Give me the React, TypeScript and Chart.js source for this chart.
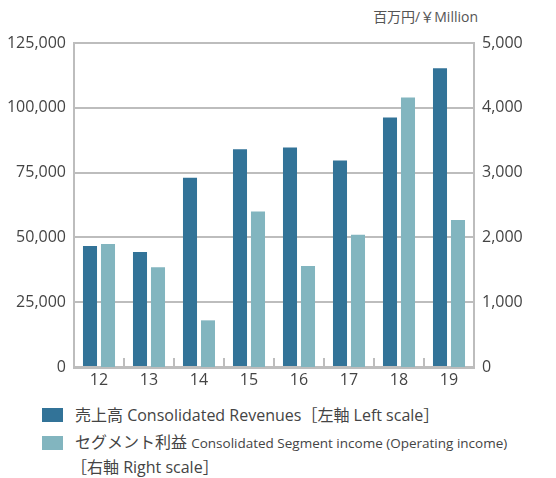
import React, { useEffect, useRef } from "react";
import { Chart, registerables } from "chart.js";

Chart.register(...registerables);

const categories = ["12", "13", "14", "15", "16", "17", "18", "19"];
const revenues = [46700, 44400, 73000, 84000, 84700, 79700, 96300, 115300];
const segmentIncome = [1900, 1540, 720, 2400, 1560, 2040, 4160, 2270];
const leftTicks = [0, 25000, 50000, 75000, 100000, 125000];
const rightTicks = [0, 1000, 2000, 3000, 4000, 5000];

const DARK = "#327398";
const LIGHT = "#82b5bf";
const GRID = "#bdbdbd";
const TEXT = "#444444";
const FONT = "'Open Sans', 'Noto Sans CJK JP', sans-serif";

const fmt = (v: number) => v.toLocaleString("en-US");

const innerTicks = {
  id: "innerTicks",
  afterDatasetsDraw(chart: any) {
    const x = chart.scales.x;
    const area = chart.chartArea;
    const ctx = chart.ctx;
    ctx.save();
    ctx.strokeStyle = GRID;
    ctx.lineWidth = 2;
    for (let i = 1; i < categories.length; i++) {
      const px = (x.getPixelForValue(i - 1) + x.getPixelForValue(i)) / 2;
      ctx.beginPath();
      ctx.moveTo(px, area.bottom - 9);
      ctx.lineTo(px, area.bottom);
      ctx.stroke();
    }
    ctx.restore();
  },
};

export default function App() {
  const ref = useRef<HTMLCanvasElement | null>(null);
  useEffect(() => {
    if (!ref.current) return;
    const chart = new Chart(ref.current, {
      type: "bar",
      data: {
        labels: categories,
        datasets: [
          {
            label: "売上高",
            data: revenues,
            backgroundColor: DARK,
            yAxisID: "y",
            categoryPercentage: 0.72,
            barPercentage: 0.78,
          },
          {
            label: "セグメント利益",
            data: segmentIncome,
            backgroundColor: LIGHT,
            yAxisID: "y1",
            categoryPercentage: 0.72,
            barPercentage: 0.78,
          },
        ],
      },
      options: {
        animation: false,
        responsive: false,
        maintainAspectRatio: false,
        layout: { padding: { top: 43, left: 0, right: 0, bottom: 0 } },
        plugins: { legend: { display: false }, tooltip: { enabled: false } },
        scales: {
          x: {
            grid: { display: false, drawTicks: false },
            border: { display: true, color: GRID, width: 3 },
            ticks: { color: TEXT, font: { family: FONT, size: 16 }, padding: 4 },
            afterFit: (s: any) => {
              s.height = 33;
            },
          },
          y: {
            position: "left",
            min: 0,
            max: 125000,
            afterBuildTicks: (s: any) => {
              s.ticks = leftTicks.map((v) => ({ value: v }));
            },
            grid: { color: GRID, lineWidth: 2, drawTicks: false },
            border: { display: true, color: GRID, width: 2 },
            ticks: {
              color: TEXT,
              font: { family: FONT, size: 16 },
              padding: 8,
              callback: (v: any) => fmt(Number(v)),
            },
            afterFit: (s: any) => {
              s.width = 74;
            },
          },
          y1: {
            position: "right",
            min: 0,
            max: 5000,
            afterBuildTicks: (s: any) => {
              s.ticks = rightTicks.map((v) => ({ value: v }));
            },
            grid: { display: false, drawTicks: false },
            border: { display: true, color: GRID, width: 2 },
            ticks: {
              color: TEXT,
              font: { family: FONT, size: 16 },
              padding: 8,
              callback: (v: any) => fmt(Number(v)),
            },
            afterFit: (s: any) => {
              s.width = 82;
            },
          },
        },
      },
      plugins: [innerTicks],
    });
    return () => chart.destroy();
  }, []);

  const swatch = (color: string, top: number): React.CSSProperties => ({
    position: "absolute",
    left: 42,
    top,
    width: 21,
    height: 14,
    background: color,
  });
  const line = (top: number): React.CSSProperties => ({
    position: "absolute",
    left: 75,
    top,
    whiteSpace: "nowrap",
    color: TEXT,
    fontFamily: FONT,
    fontSize: 16,
    lineHeight: "20px",
  });

  return (
    <div style={{ position: "absolute", left: 0, top: 0, width: 556, height: 478, background: "#fff" }}>
      <div
        style={{
          position: "absolute",
          right: 78,
          top: 7,
          color: "#555",
          fontFamily: FONT,
          fontSize: 14,
          lineHeight: "20px",
          whiteSpace: "nowrap",
        }}
      >
        百万円/￥Million
      </div>
      <canvas ref={ref} width={556} height={400} style={{ position: "absolute", left: 0, top: 0 }} />
      <div style={swatch(DARK, 408)} />
      <div style={line(405)}>売上高 Consolidated Revenues［左軸 Left scale］</div>
      <div style={swatch(LIGHT, 436)} />
      <div style={line(432)}>
        セグメント利益 <span style={{ fontSize: 13.5 }}>Consolidated Segment income (Operating income)</span>
      </div>
      <div style={{ ...line(457), left: 71 }}>［右軸 Right scale］</div>
    </div>
  );
}
